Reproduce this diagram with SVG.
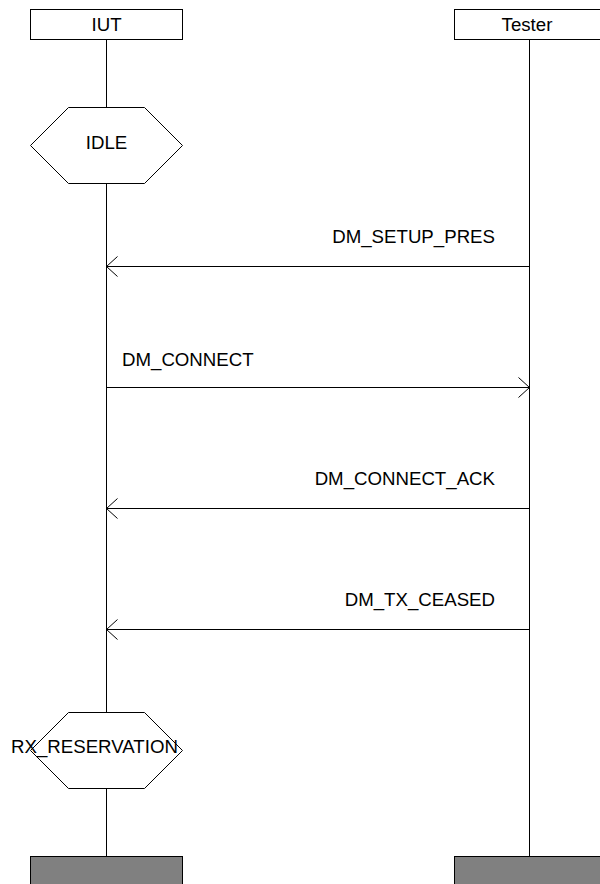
<svg xmlns="http://www.w3.org/2000/svg" width="600" height="884" viewBox="0 0 600 884">
<defs>
<marker id="open" markerUnits="userSpaceOnUse" viewBox="-12 -11 13 22" refX="0" refY="0" markerWidth="13" markerHeight="22" orient="auto" overflow="visible">
<path d="M-11,-10 L0,0 L-11,10" fill="none" stroke="#000" stroke-width="1"/>
</marker>
<style>
text{font-family:"Liberation Sans",Arial,sans-serif;font-size:18.67px;fill:#000}
.box{fill:#fff;stroke:#000;stroke-width:1}
.end{fill:#808080;stroke:#000;stroke-width:1}
.life{stroke:#000;stroke-width:1;fill:none}
.msg{stroke:#000;stroke-width:1;fill:none;marker-end:url(#open)}
.hex{fill:#fff;stroke:#000;stroke-width:1}
</style>
</defs>
<rect width="600" height="884" fill="#fff"/>
<g id="lifelines">
<line class="life" x1="106.5" y1="39" x2="106.5" y2="856"/>
<line class="life" x1="529.5" y1="39" x2="529.5" y2="856"/>
</g>
<g id="iut">
<rect class="box" x="30.5" y="9.5" width="152" height="30"/>
<text x="106.5" y="31" text-anchor="middle">IUT</text>
</g>
<g id="tester">
<rect class="box" x="454.5" y="9.5" width="150" height="30"/>
<text x="527" y="31" text-anchor="middle">Tester</text>
</g>
<g id="idle">
<polygon class="hex" points="30.5,145.5 68.5,107.5 144.5,107.5 182.5,145.5 144.5,183.5 68.5,183.5"/>
<text x="106.5" y="149" text-anchor="middle">IDLE</text>
</g>
<g id="rx_reservation">
<polygon class="hex" points="30.5,750.5 68.5,712.5 144.5,712.5 182.5,750.5 144.5,788.5 68.5,788.5"/>
<text x="11" y="753">RX_RESERVATION</text>
</g>
<g id="iut_end">
<rect class="end" x="30.5" y="856.5" width="152" height="40"/>
</g>
<g id="tester_end">
<rect class="end" x="454.5" y="856.5" width="150" height="40"/>
</g>
<g id="connectors">
<line class="msg" x1="529.5" y1="266.5" x2="106.5" y2="266.5"/>
<text x="495" y="243" text-anchor="end">DM_SETUP_PRES</text>
<line class="msg" x1="106.5" y1="387.5" x2="529.5" y2="387.5"/>
<text x="122" y="366">DM_CONNECT</text>
<line class="msg" x1="529.5" y1="508.5" x2="106.5" y2="508.5"/>
<text x="495" y="485" text-anchor="end">DM_CONNECT_ACK</text>
<line class="msg" x1="529.5" y1="629.5" x2="106.5" y2="629.5"/>
<text x="495" y="606" text-anchor="end">DM_TX_CEASED</text>
</g>
</svg>
